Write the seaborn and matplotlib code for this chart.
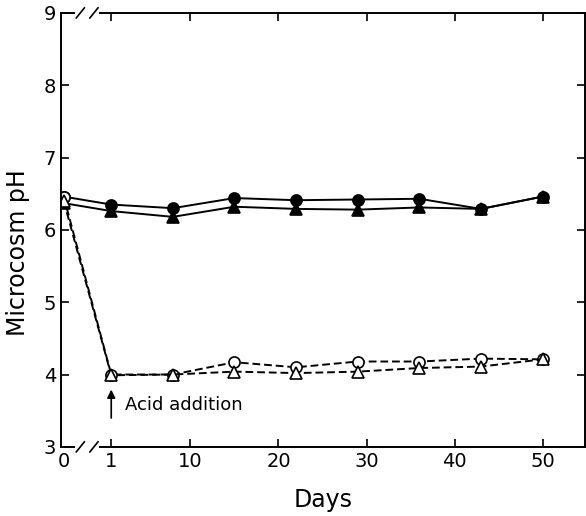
import numpy as np
import pandas as pd
import matplotlib
matplotlib.use("Agg")
import matplotlib.pyplot as plt
import seaborn as sns

# Sampling days (day 0 sits left of the axis break)
days = [0, 1, 8, 15, 22, 29, 36, 43, 50]

# Control microcosms (solid lines)
ctrl_circle = [6.46, 6.35, 6.30, 6.44, 6.41, 6.42, 6.43, 6.29, 6.46]
ctrl_triangle = [6.37, 6.26, 6.18, 6.32, 6.29, 6.28, 6.31, 6.29, 6.46]

# Acidified microcosms (dashed lines)
acid_circle = [6.46, 4.00, 4.00, 4.17, 4.10, 4.18, 4.18, 4.22, 4.21]
acid_triangle = [6.40, 3.99, 4.00, 4.04, 4.02, 4.04, 4.09, 4.11, 4.21]

xtick_vals = [0, 1, 10, 20, 30, 40, 50]
ytick_vals = [3, 4, 5, 6, 7, 8, 9]

sns.set_theme(style="ticks")
plt.rcParams["font.family"] = ["DejaVu Sans"]
plt.rcParams["text.color"] = "black"
plt.rcParams["axes.labelcolor"] = "black"


# broken x axis: squeeze the 0..1 interval
def fwd(x):
    x = np.asarray(x, dtype=float)
    return np.where(x < 1, -4.4 + 5.4 * x, x)


def inv(y):
    y = np.asarray(y, dtype=float)
    return np.where(y < 1, (y + 4.4) / 5.4, y)


fig = plt.figure(figsize=(5.86, 5.16), dpi=100)
ax = fig.add_axes([0.104, 0.134, 0.894, 0.841])
ax.set_xscale("function", functions=(fwd, inv))

series = [
    (ctrl_circle, "o", "black", "-"),
    (ctrl_triangle, "^", "black", "-"),
    (acid_circle, "o", "white", (0, (4, 2))),
    (acid_triangle, "^", "white", (0, (4, 2))),
]
for vals, mk, fc, ls in series:
    df = pd.DataFrame({"day": days, "ph": vals})
    sns.lineplot(data=df, x="day", y="ph", ax=ax, color="black", lw=1.4,
                 linestyle=ls, marker=mk, markersize=8, markerfacecolor=fc,
                 markeredgecolor="black", markeredgewidth=1.2)

ax.set_xlim(-0.058, 54.8)
ax.set_ylim(3, 9)
ax.set_xticks(xtick_vals)
ax.set_xticklabels([str(v) for v in xtick_vals])
ax.set_yticks(ytick_vals)
ax.tick_params(direction="in", length=6, width=1.2, labelsize=14,
               top=True, right=True, colors="black")
ax.xaxis.get_major_ticks()[0].tick1line.set_visible(False)
ax.xaxis.get_major_ticks()[0].tick2line.set_visible(False)
for sp in ax.spines.values():
    sp.set_linewidth(1.4)
    sp.set_color("black")

# axis break on top and bottom
for yy in (0, 1):
    ax.plot([0.031, 0.069], [yy, yy], transform=ax.transAxes, color="white",
            lw=3, clip_on=False, zorder=5)
    for xx in (0.037, 0.063):
        ax.plot([xx - 0.008, xx + 0.008], [yy - 0.012, yy + 0.012],
                transform=ax.transAxes, color="black", lw=1.2,
                clip_on=False, zorder=6)

ax.annotate("", xy=(1, 3.83), xytext=(1, 3.36),
            arrowprops=dict(arrowstyle="-|>", color="black", lw=1.2))
ax.text(2.6, 3.58, "Acid addition", fontsize=13, va="center", ha="left")

ax.set_xlabel("Days", fontsize=17)
ax.set_ylabel("Microcosm pH", fontsize=17)
ax.xaxis.set_label_coords(0.5, -0.094)
ax.yaxis.set_label_coords(-0.059, 0.447)

fig.savefig("out.png", dpi=100)
